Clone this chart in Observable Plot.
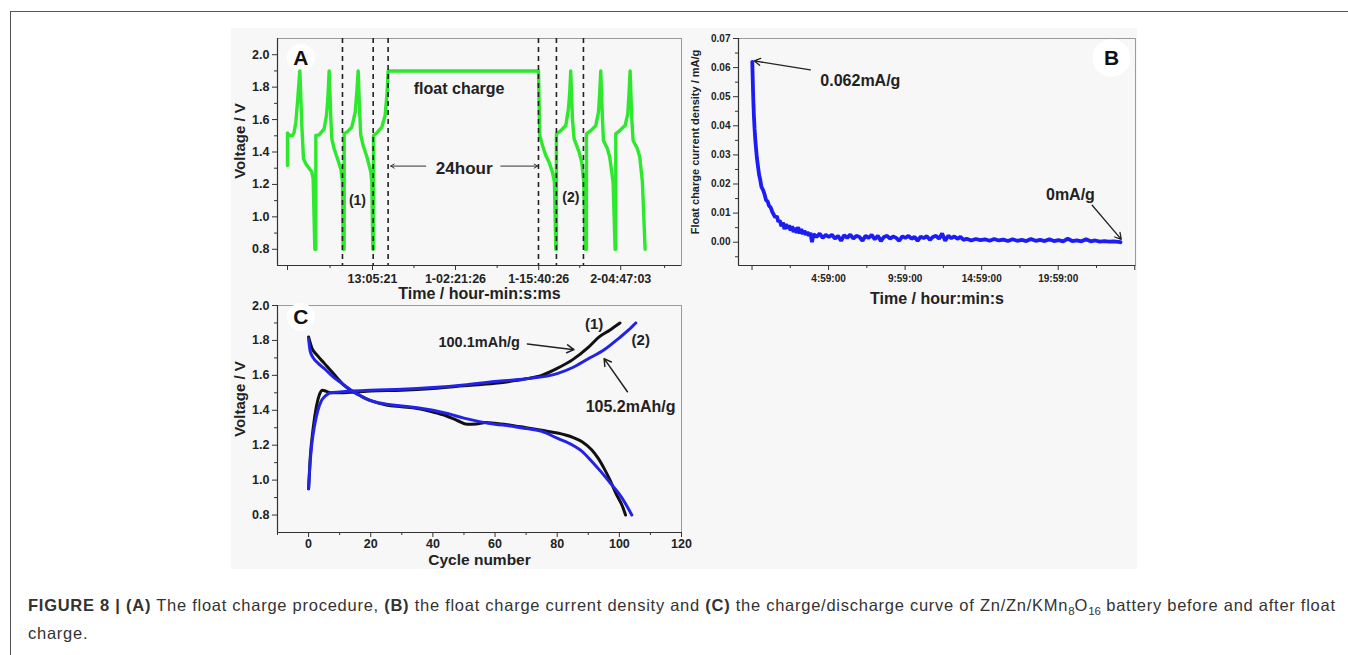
<!DOCTYPE html>
<html><head><meta charset="utf-8">
<script src="https://cdn.jsdelivr.net/npm/d3@7"></script>
<script src="https://cdn.jsdelivr.net/npm/@observablehq/plot@0.6"></script>
<style>
body{margin:0;width:1348px;height:655px;background:#fff;position:relative;overflow:hidden;font-family:"Liberation Sans",Arial,sans-serif;}
#frame{position:absolute;left:10px;top:11px;width:1400px;height:700px;border-top:1.5px solid #555;border-left:1.5px solid #555;}
#figbg{position:absolute;left:231px;top:28px;width:906px;height:541px;background:#f7f7f7;}
.panel{position:absolute;}
#caption{position:absolute;left:28px;top:591px;font-size:16.5px;letter-spacing:0.74px;line-height:28px;color:#333;white-space:nowrap;}
#caption sub{font-size:11.5px;line-height:0;letter-spacing:0;}
</style></head>
<body>
<div id="frame"></div>
<div id="figbg"></div>
<div id="pA" class="panel" style="left:231px;top:28px"></div>
<div id="pB" class="panel" style="left:685px;top:28px"></div>
<div id="pC" class="panel" style="left:231px;top:295px"></div>
<div id="caption"><b>FIGURE 8 | (A)</b> The float charge procedure, <b>(B)</b> the float charge current density and <b>(C)</b> the charge/discharge curve of Zn/Zn/KMn<sub>8</sub>O<sub>16</sub> battery before and after float<br>charge.</div>
<script>
// ---------- Panel A: float charge procedure (time in hours, voltage V)
const timeA = [-0.50,-0.50,-0.23,0.30,0.56,0.83,1.10,1.47,1.79,2.06,2.43,3.39,3.60,3.87,
 4.03,4.03,4.56,5.36,5.73,5.95,6.16,6.43,6.59,6.96,7.49,8.03,8.29,8.40,
 8.56,8.56,9.09,9.78,10.32,10.58,10.80,11.06,11.22,11.60,12.29,12.82,12.98,13.14,
 13.25,13.25,13.89,14.58,15.11,15.43,15.59,39.63,39.84,40.27,40.80,41.33,41.86,42.18,42.40,
 42.50,42.50,43.20,44.00,44.42,44.63,44.79,45.06,45.33,46.13,46.55,46.88,47.09,
 47.30,47.30,48.00,48.79,49.22,49.43,49.59,49.86,50.02,50.66,51.03,51.56,51.88,
 51.99,51.99,52.63,53.48,53.91,54.12,54.28,54.55,54.76,55.45,55.83,56.25,56.68];
const voltA = [1.317,1.518,1.502,1.502,1.522,1.584,1.707,1.90,1.563,1.358,1.327,1.276,1.235,0.80,
 0.80,1.502,1.506,1.543,1.625,1.727,1.90,1.604,1.481,1.42,1.358,1.296,1.214,0.80,
 0.80,1.512,1.526,1.553,1.645,1.768,1.90,1.625,1.502,1.44,1.358,1.276,1.214,0.80,
 0.80,1.502,1.522,1.553,1.625,1.768,1.90,1.90,1.502,1.44,1.378,1.337,1.276,1.214,0.80,
 0.80,1.512,1.532,1.563,1.666,1.768,1.90,1.604,1.481,1.399,1.337,1.214,0.80,
 0.80,1.512,1.532,1.563,1.645,1.768,1.90,1.604,1.471,1.42,1.368,1.214,0.80,
 0.80,1.512,1.532,1.563,1.635,1.768,1.90,1.604,1.471,1.42,1.368,1.214,0.80];
const dashTimesA = [8.29, 13.2, 15.59, 39.63, 42.5, 46.82];
const tickValuesA = [-0.5, 13.09, 26.36, 39.67, 52.78];
const tickLabelsA = ["", "13:05:21", "1-02:21:26", "1-15:40:26", "2-04:47:03"];
const minorTicksA = [6.3, 19.72, 33.02, 46.23, 59.8];
const voltTicksA = [0.8, 1.0, 1.2, 1.4, 1.6, 1.8, 2.0];
const voltMinorA = [0.9, 1.1, 1.3, 1.5, 1.7, 1.9];
const notesA = [
  {label: "float charge", x: 26.94, y: 1.79, size: 16},
  {label: "24hour", x: 27.75, y: 1.296, size: 17},
  {label: "(1)", x: 10.69, y: 1.10, size: 14},
  {label: "(2)", x: 44.8, y: 1.12, size: 14}
];
const arrowsA = [
  {x1: 21.6, y1: 1.313, x2: 16.0, y2: 1.313},
  {x1: 33.6, y1: 1.313, x2: 39.5, y2: 1.313}
];
const letterA = [{label: "A", x: 1.63, y: 1.98}];

// ---------- Panel B: float charge current density (time h, mA/g)
const timeB = [0,0.02,0.05,0.08,0.11,0.15,0.2,0.25,0.3,0.35,0.4,0.45,0.5,0.55,0.6,0.7,0.8,0.9,1.0,1.1,1.2,1.3,1.4,1.5,1.6,1.7,1.8,1.9,
 2.0,2.1,2.2,2.3,2.4,2.5,2.6,2.7,2.8,2.9,3.0,3.1,3.2,3.3,3.4,3.5,3.6,3.7,3.8,3.9,4.0,4.2,4.4,4.6,4.8,
 5.0,5.2,5.4,5.6,5.8,6.0,6.2,6.4,6.6,6.8,7.0,7.2,7.4,7.6,7.8,8.0,8.2,8.4,8.6,8.8,9.0,9.2,9.4,9.6,9.8,
 10.0,10.2,10.4,10.6,10.8,11.0,11.2,11.4,11.6,11.8,12.0,12.2,12.4,12.6,12.8,13.0,13.2,13.4,13.6,13.8,
 14.0,14.3,14.6,14.9,15.2,15.5,15.8,16.1,16.4,16.7,17.0,17.3,17.6,17.9,18.2,18.5,18.8,19.1,19.4,19.7,
 20.0,20.3,20.6,20.9,21.2,21.5,21.8,22.1,22.4,22.7,23.0,23.3,23.6,24.05];
const currentB = [0.062,0.058,0.052,0.047,0.043,0.039,0.035,0.032,0.029,0.027,0.025,0.023,0.022,0.0205,0.019,0.018,0.0165,0.0145,0.014,0.0125,0.012,0.0105,0.0095,0.0085,0.009,0.007,0.0075,0.0055,
 0.0068,0.0045,0.0062,0.0048,0.0058,0.004,0.0055,0.0035,0.005,0.0032,0.0052,0.003,0.0045,0.0028,0.004,0.0025,0.0035,0.0022,0.0032,0.0,0.0028,0.0018,0.003,0.0015,0.0025,
 0.0018,0.0026,0.0012,0.0022,0.0005,0.0024,0.0015,0.0026,0.0012,0.0022,0.0018,0.0005,0.0022,0.0015,0.0025,0.001,0.0022,0.0004,0.0018,0.0022,0.0012,0.002,0.0015,0.0005,0.002,
 0.0015,0.0022,0.0012,0.0018,0.0005,0.0019,0.0014,0.0021,0.0008,0.0018,0.0022,0.0012,0.003,0.0005,0.0022,0.0014,0.002,0.0012,0.0018,0.0008,
 0.0012,0.0006,0.0011,0.0007,0.001,0.0005,0.0011,0.0006,0.0009,0.0004,0.001,0.0005,0.0008,0.0004,0.0011,0.0005,0.0008,0.0004,0.001,0.0004,
 0.0007,0.0003,0.0012,0.0004,0.0006,0.0003,0.001,0.0003,0.0006,0.0002,0.0004,0.0002,0.0003,0.0];
const tickValuesB = [-0.017, 4.983, 9.983, 14.983, 19.983, 24.983];
const tickLabelsB = ["", "4:59:00", "9:59:00", "14:59:00", "19:59:00", ""];
const minorTicksB = [2.483, 7.483, 12.483, 17.483, 22.483];
const currentTicksB = [0, 0.01, 0.02, 0.03, 0.04, 0.05, 0.06, 0.07];
const currentMinorB = [-0.005, 0.005, 0.015, 0.025, 0.035, 0.045, 0.055, 0.065];
const notesB = [
  {label: "0.062mA/g", x: 7.06, y: 0.0555},
  {label: "0mA/g", x: 20.78, y: 0.0163}
];
const arrowsB = [
  {x1: 3.79, y1: 0.0592, x2: 0.13, y2: 0.0623},
  {x1: 22.2, y1: 0.0127, x2: 24.1, y2: 0.001}
];
const letterB = [{label: "B", x: 23.46, y: 0.0633}];

// ---------- Panel C: charge/discharge curves (cycle number, V)
const chargeX1 = [0,0.5,1.5,2.5,3.5,4.5,5.5,7,10,15,20,30,40,50,60,70,75,80,85,90,93.5,97,100.2];
const chargeV1 = [0.95,1.12,1.30,1.42,1.49,1.515,1.51,1.50,1.50,1.505,1.51,1.515,1.525,1.54,1.555,1.58,1.60,1.64,1.69,1.76,1.82,1.86,1.90];
const dischargeX1 = [0,1,3,5,8,11,14,17,20,25,30,35,40,44,48,51,54,57,60,65,70,75,80,85,88,91,93,95,97,99,101,102];
const dischargeV1 = [1.82,1.76,1.71,1.67,1.61,1.55,1.51,1.48,1.455,1.43,1.42,1.41,1.39,1.37,1.34,1.32,1.322,1.33,1.325,1.315,1.30,1.285,1.27,1.245,1.22,1.175,1.13,1.07,1.0,0.92,0.85,0.80];
const chargeX2 = [0,0.5,1,2,3,4,5,6,7,10,20,30,40,50,60,70,80,85,90,95,100,103,105.3];
const chargeV2 = [0.95,1.10,1.20,1.32,1.40,1.45,1.475,1.49,1.50,1.505,1.515,1.52,1.53,1.545,1.565,1.58,1.61,1.645,1.695,1.745,1.815,1.86,1.90];
const dischargeX2 = [0,0.5,1.5,3,5,8,11,14,17,20,25,30,35,40,45,50,55,60,65,70,75,80,85,88,91,94,97,100,102,104];
const dischargeV2 = [1.81,1.74,1.70,1.67,1.64,1.59,1.55,1.51,1.48,1.455,1.435,1.425,1.415,1.40,1.38,1.355,1.335,1.32,1.31,1.295,1.28,1.24,1.20,1.165,1.11,1.05,0.985,0.92,0.865,0.80];
const cycleTicksC = [0, 20, 40, 60, 80, 100, 120];
const cycleMinorC = [-10, 10, 30, 50, 70, 90, 110];
const voltTicksC = [0.8, 1.0, 1.2, 1.4, 1.6, 1.8, 2.0];
const voltMinorC = [0.9, 1.1, 1.3, 1.5, 1.7, 1.9];
const notesC = [
  {label: "(1)", x: 91.9, y: 1.895, size: 15},
  {label: "100.1mAh/g", x: 54.9, y: 1.79, size: 14.5},
  {label: "(2)", x: 106.9, y: 1.80, size: 15},
  {label: "105.2mAh/g", x: 103.6, y: 1.42, size: 16}
];
const arrowsC = [
  {x1: 70.4, y1: 1.78, x2: 85.4, y2: 1.747},
  {x1: 102.6, y1: 1.506, x2: 95.1, y2: 1.696}
];
const letterC = [{label: "C", x: -2.46, y: 1.933}];

// ---------- helpers
const FONT = '"Liberation Sans", Arial, sans-serif';
const zip = (xs, ys) => xs.map((x, i) => ({x, y: ys[i]}));
const baseStyle = {background: "transparent", fontFamily: FONT, fontWeight: "bold", color: "#222", overflow: "visible"};
function axes(xT, xMinor, xFmt, yT, yMinor, yFmt, fs, xDom, yDom, xPad = 4) {
  return [
    Plot.frame({stroke: "#9a9a9a", strokeWidth: 1}),
    Plot.ruleX([xDom[0]], {stroke: "#333", strokeWidth: 1.2}),
    Plot.ruleY([yDom[0]], {stroke: "#333", strokeWidth: 1.2}),
    Plot.axisX({ticks: xT, tickFormat: xFmt, tickSize: 5, tickPadding: xPad, fontSize: fs, label: null, stroke: "#333"}),
    Plot.axisX({ticks: xMinor, tickFormat: null, text: null, tickSize: 3, label: null, stroke: "#333"}),
    Plot.axisY({ticks: yT, tickFormat: yFmt, tickSize: 5, tickPadding: 3, fontSize: fs, label: null, stroke: "#333"}),
    Plot.axisY({ticks: yMinor, text: null, tickSize: 3, label: null, stroke: "#333"})
  ];
}
function letter(data, r) {
  return [
    Plot.dot(data, {x: "x", y: "y", r, fill: "white", stroke: null}),
    Plot.text(data, {x: "x", y: "y", text: "label", fontSize: 21, fontWeight: "bold", fill: "#111"})
  ];
}
function title(str, opts) {
  return Plot.text([str], {textAnchor: "middle", lineAnchor: "middle", fill: "#222", ...opts});
}

// ---------- Panel A
{
  const xDom = [-2.1, 62.5], yDom = [0.7, 2.1];
  const labelMap = new Map(tickValuesA.map((v, i) => [v, tickLabelsA[i]]));
  const chart = Plot.plot({
    width: 460, height: 280,
    marginLeft: 46, marginRight: 10, marginTop: 10, marginBottom: 43,
    style: baseStyle,
    x: {domain: xDom}, y: {domain: yDom},
    marks: [
      ...axes(tickValuesA, minorTicksA, d => labelMap.get(d), voltTicksA, voltMinorA, d => d.toFixed(1), 12.5, xDom, yDom),
      ...letter(letterA, 14),
      Plot.line(zip(timeA, voltA), {x: "x", y: "y", stroke: "#2ee82e", strokeWidth: 3.4, strokeLinejoin: "round"}),
      Plot.ruleX(dashTimesA, {stroke: "#222", strokeWidth: 1.6, strokeDasharray: "5,4"}),
      ...notesA.map(n => Plot.text([n], {x: "x", y: "y", text: "label", fontSize: n.size, fill: "#222"})),
      Plot.arrow(arrowsA, {x1: "x1", y1: "y1", x2: "x2", y2: "y2", stroke: "#333", strokeWidth: 1, headLength: 6}),
      title("Voltage / V", {frameAnchor: "left", dx: -37, dy: -11, rotate: -90, fontSize: 15}),
      title("Time / hour-min:s:ms", {frameAnchor: "bottom", dy: 28, fontSize: 16})
    ]
  });
  document.getElementById("pA").append(chart);
}

// ---------- Panel B
{
  const xDom = [-0.9, 25.03], yDom = [-0.008, 0.07];
  const labelMap = new Map(tickValuesB.map((v, i) => [v, tickLabelsB[i]]));
  const chart = Plot.plot({
    width: 460, height: 285,
    marginLeft: 53, marginRight: 10, marginTop: 10, marginBottom: 48,
    style: baseStyle,
    x: {domain: xDom}, y: {domain: yDom},
    marks: [
      ...axes(tickValuesB, minorTicksB, d => labelMap.get(d), currentTicksB, currentMinorB, d => d.toFixed(2), 10, xDom, yDom),
      ...letter(letterB, 19),
      Plot.line(zip(timeB, currentB), {x: "x", y: "y", stroke: "#1c1cf5", strokeWidth: 3.8, strokeLinejoin: "miter"}),
      Plot.text(notesB, {x: "x", y: "y", text: "label", fontSize: 16, fill: "#222"}),
      Plot.arrow(arrowsB, {x1: "x1", y1: "y1", x2: "x2", y2: "y2", stroke: "#222", strokeWidth: 1.3, headLength: 8}),
      title("Float charge current density / mA/g", {frameAnchor: "left", dx: -43, dy: -10, rotate: -90, fontSize: 11}),
      title("Time / hour:min:s", {frameAnchor: "bottom", dy: 33, fontSize: 16})
    ]
  });
  document.getElementById("pB").append(chart);
}

// ---------- Panel C
{
  const xDom = [-10, 120], yDom = [0.7, 2.0];
  const chart = Plot.plot({
    width: 460, height: 275,
    marginLeft: 46, marginRight: 10, marginTop: 10, marginBottom: 38,
    style: baseStyle,
    x: {domain: xDom}, y: {domain: yDom},
    marks: [
      ...axes(cycleTicksC, cycleMinorC, d => String(d), voltTicksC, voltMinorC, d => d.toFixed(1), 12.5, xDom, yDom, 2),
      ...letter(letterC, 14),
      Plot.line(zip(chargeX1, chargeV1), {x: "x", y: "y", stroke: "#111", strokeWidth: 3, curve: "monotone-x"}),
      Plot.line(zip(dischargeX1, dischargeV1), {x: "x", y: "y", stroke: "#111", strokeWidth: 3, curve: "monotone-x"}),
      Plot.line(zip(chargeX2, chargeV2), {x: "x", y: "y", stroke: "#2323e8", strokeWidth: 3, curve: "monotone-x"}),
      Plot.line(zip(dischargeX2, dischargeV2), {x: "x", y: "y", stroke: "#2323e8", strokeWidth: 3, curve: "monotone-x"}),
      ...notesC.map(n => Plot.text([n], {x: "x", y: "y", text: "label", fontSize: n.size, fill: "#222"})),
      Plot.arrow(arrowsC, {x1: "x1", y1: "y1", x2: "x2", y2: "y2", stroke: "#222", strokeWidth: 1.5, headLength: 8}),
      title("Voltage / V", {frameAnchor: "left", dx: -37, dy: -20, rotate: -90, fontSize: 15}),
      title("Cycle number", {frameAnchor: "bottom", dy: 27.5, fontSize: 15.5})
    ]
  });
  document.getElementById("pC").append(chart);
}
</script>
</body></html>
